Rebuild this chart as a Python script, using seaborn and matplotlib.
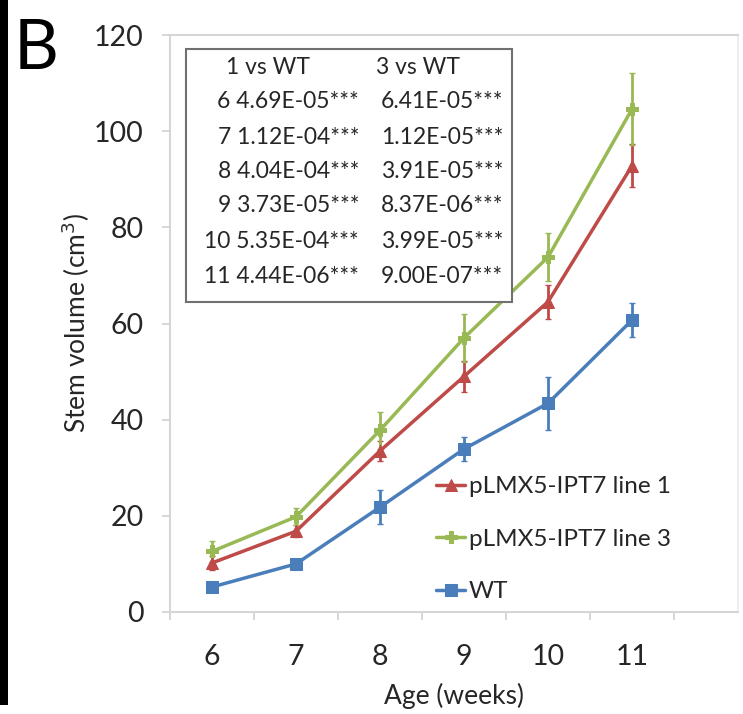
import matplotlib
matplotlib.use("Agg")
import matplotlib.pyplot as plt
import numpy as np
import pandas as pd
import seaborn as sns
from matplotlib.patches import Rectangle
from matplotlib.ticker import FixedLocator

weeks = [6, 7, 8, 9, 10, 11]
line1 = [10.2, 16.8, 33.5, 49.0, 64.5, 92.8]
line1_err = [1.5, 1.2, 2.0, 3.2, 3.5, 4.5]
line3 = [12.6, 19.8, 37.8, 57.0, 73.8, 104.6]
line3_err = [2.2, 1.8, 3.8, 5.0, 5.0, 7.5]
wt = [5.2, 10.0, 21.8, 33.9, 43.4, 60.7]
wt_err = [0.8, 0.8, 3.5, 2.5, 5.5, 3.5]

series_names = ["pLMX5-IPT7 line 1", "pLMX5-IPT7 line 3", "WT"]
p_line1 = ["4.69E-05", "1.12E-04", "4.04E-04", "3.73E-05", "5.35E-04", "4.44E-06"]
p_line3 = ["6.41E-05", "1.12E-05", "3.91E-05", "8.37E-06", "3.99E-05", "9.00E-07"]

colors = {"pLMX5-IPT7 line 1": "#BE4B48", "pLMX5-IPT7 line 3": "#98B954", "WT": "#4A7EBB"}
markers = {"pLMX5-IPT7 line 1": "^", "pLMX5-IPT7 line 3": "P", "WT": "s"}
msizes = {"pLMX5-IPT7 line 1": 9, "pLMX5-IPT7 line 3": 8, "WT": 8}

df = pd.DataFrame({
    "week": weeks * 3,
    "volume": line1 + line3 + wt,
    "err": line1_err + line3_err + wt_err,
    "series": [s for s in series_names for _ in weeks],
})

sns.set_style("white")
plt.rcParams["font.family"] = ["Lato", "DejaVu Sans"]
txt = "#262626"

W, H = 743, 714
fig = plt.figure(figsize=(W / 100, H / 100), dpi=100)
ax = fig.add_axes([170 / W, 1 - 612 / H, (738 - 170) / W, (612 - 35) / H])

for name in ["WT", "pLMX5-IPT7 line 1", "pLMX5-IPT7 line 3"]:
    sub = df[df["series"] == name]
    ax.errorbar(sub["week"], sub["volume"], yerr=sub["err"], fmt="none",
                ecolor=colors[name], elinewidth=2, capsize=2, zorder=2)
    sns.lineplot(data=sub, x="week", y="volume", ax=ax, color=colors[name],
                 marker=markers[name], markersize=msizes[name], markeredgecolor=colors[name],
                 linewidth=2.5, label=name, zorder=3)

ax.set_xlim(5.5, 5.5 + (738 - 170) / 84.0)
ax.set_ylim(0, 120)
ax.set_xticks(weeks)
ax.xaxis.set_minor_locator(FixedLocator(np.arange(5.5, 11.6, 1.0)))
ax.set_yticks(range(0, 121, 20))
ax.tick_params(axis="x", which="major", length=0, pad=23, labelsize=20.5, labelcolor=txt)
ax.tick_params(axis="x", which="minor", length=6, width=1.2, color="#D0D0D0", direction="out", bottom=True)
ax.tick_params(axis="y", length=6, width=1.2, color="#D0D0D0", direction="out", left=True, pad=13,
               labelsize=20.5, labelcolor=txt)

for side in ["left", "bottom", "top", "right"]:
    ax.spines[side].set_color("#D6D6D6")
    ax.spines[side].set_linewidth(1.5)
ax.spines["right"].set_color("#EEEEEE")

ax.set_xlabel("Age (weeks)", fontsize=19, color=txt, labelpad=9)
ax.set_ylabel("Stem volume (cm$^3$)", fontsize=19, color=txt, labelpad=1)

handles, labels = ax.get_legend_handles_labels()
order = [labels.index(n) for n in series_names]
ax.legend([handles[i] for i in order], [labels[i] for i in order],
          loc="upper left", bbox_to_anchor=((436 - 170) / 568, (612 - 476) / 577),
          frameon=False, fontsize=17.5, handlelength=1.2, handletextpad=0.15,
          labelspacing=1.3, borderpad=0, borderaxespad=0, labelcolor=txt)

# p-value table box
fig.add_artist(Rectangle((186 / W, 1 - 302 / H), (512 - 186) / W, (302 - 49) / H,
                         transform=fig.transFigure, facecolor="white", edgecolor="#707070",
                         linewidth=1.5, zorder=5))
tkw = dict(fontsize=16.5, color=txt, va="center", zorder=6)
fig.text(268 / W, 1 - 68 / H, "1 vs WT", ha="center", **tkw)
fig.text(418 / W, 1 - 68 / H, "3 vs WT", ha="center", **tkw)
row_y = [101, 137, 172, 206, 242, 277]
for wk, a, b, yy in zip(weeks, p_line1, p_line3, row_y):
    fig.text(359 / W, 1 - yy / H, f"{wk} {a}***", ha="right", **tkw)
    fig.text(503 / W, 1 - yy / H, f"{b}***", ha="right", **tkw)

# panel letter and black bar at left edge
fig.text(14 / W, 1 - 18 / H, "B", fontsize=50, ha="left", va="top", color="black")
fig.add_artist(Rectangle((0, 1 - 705 / H), 8 / W, 705 / H, transform=fig.transFigure,
                         facecolor="black", edgecolor="none"))

fig.savefig("out.png", dpi=100, facecolor="white")
